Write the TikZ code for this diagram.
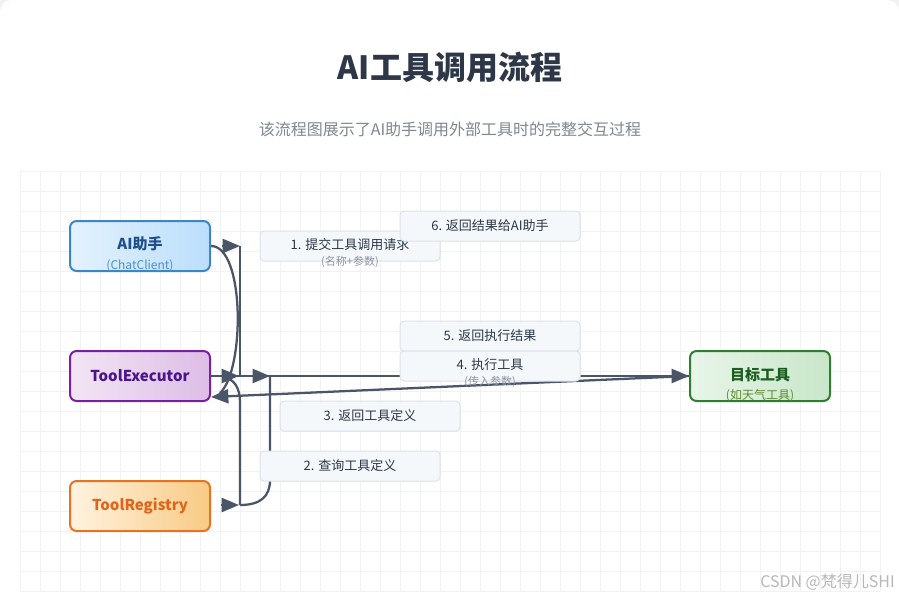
\documentclass[tikz,border=0pt]{standalone}
\usepackage{fontspec}
\setmainfont{Noto Sans CJK SC}
\usetikzlibrary{arrows.meta}
\definecolor{edgec}{HTML}{4A5568}
\definecolor{pagebg}{HTML}{F2F2F2}
\definecolor{gridc}{HTML}{F1F2F3}
\definecolor{titlec}{HTML}{2D3748}
\definecolor{subc}{HTML}{7F8790}
\definecolor{labfill}{HTML}{F5F8FB}
\definecolor{labdraw}{HTML}{DCE2E9}
\definecolor{labtext}{HTML}{2D3748}
\definecolor{labsub}{HTML}{8A94A3}
\definecolor{aiB}{HTML}{3D85C6}\definecolor{aiL}{HTML}{E3F2FD}\definecolor{aiR}{HTML}{BBDEFB}
\definecolor{aiT}{HTML}{1E4E8C}\definecolor{aiS}{HTML}{4A8FD0}
\definecolor{teB}{HTML}{7B1FA2}\definecolor{teL}{HTML}{F3E5F5}\definecolor{teR}{HTML}{DDBDE6}
\definecolor{teT}{HTML}{4A148C}
\definecolor{trB}{HTML}{E67322}\definecolor{trL}{HTML}{FFF3E0}\definecolor{trR}{HTML}{F8CA84}
\definecolor{trT}{HTML}{E0651C}
\definecolor{ttB}{HTML}{2E7D32}\definecolor{ttL}{HTML}{E8F5E9}\definecolor{ttR}{HTML}{C8E6C9}
\definecolor{ttT}{HTML}{1B5E20}\definecolor{ttS}{HTML}{5E8A2E}
\definecolor{wmc}{HTML}{B8B8B8}
\tikzset{
  comp/.style={rounded corners=5pt, minimum width=105pt, minimum height=37.5pt, line width=1.5pt, inner sep=0pt},
  lab/.style={rounded corners=3pt, minimum width=135pt, minimum height=22.5pt, fill=labfill, draw=labdraw, line width=0.75pt, inner sep=0pt},
  labtxt/.style={font=\fontsize{9.75}{11}\selectfont, text=labtext, inner sep=0pt},
  labsubtxt/.style={font=\fontsize{8.25}{9}\selectfont, text=labsub, inner sep=0pt},
  maintxt/.style={font=\fontsize{11.25}{13}\selectfont\bfseries, inner sep=0pt},
  subtxt/.style={font=\fontsize{9}{10}\selectfont, inner sep=0pt},
  edge/.style={draw=edgec, line width=1.7pt},
  tip/.style={-{Triangle[length=13pt,width=10.5pt]}},
  gridline/.style={draw=gridc, line width=0.75pt}
}
\begin{document}
\begin{tikzpicture}[x=0.75pt,y=-0.75pt]
\useasboundingbox (0,0) rectangle (899,597);
\fill[pagebg] (0,0) rectangle (899,597);
\fill[white, rounded corners=9pt] (0,0) rectangle (899,620);
% grid
\foreach \gx in {20,40,...,880} \draw[gridline] (\gx,171) -- (\gx,591);
\foreach \gy in {171,191,...,591} \draw[gridline] (20,\gy) -- (880,\gy);
% title
\node[font=\fontsize{24}{28}\selectfont\bfseries, text=titlec, inner sep=0pt] (title) at (450,67) {AI工具调用流程};
\node[font=\fontsize{12}{14}\selectfont, text=subc, inner sep=0pt] (subtitle) at (450,129) {该流程图展示了AI助手调用外部工具时的完整交互过程};
% components
\node[comp, draw=aiB, left color=aiL, right color=aiR] (ai) at (140,246) {};
\node[comp, draw=teB, left color=teL, right color=teR] (te) at (140,376) {};
\node[comp, draw=trB, left color=trL, right color=trR] (tr) at (140,506) {};
\node[comp, draw=ttB, left color=ttL, right color=ttR] (tt) at (760,376) {};
% joints
\coordinate (jtop) at (240,246);
\coordinate (j1) at (239,376);
\coordinate (j2) at (270,376);
\coordinate (jb) at (239,505);
\coordinate (cstart) at (225,378);
\coordinate (cend) at (220,393);
\coordinate (tein) at (211,397);
% edges
\draw[edge] (ai.east) .. controls (245,246) and (245,370) .. (cend);
\draw[edge] (240,376) -- (jtop);
\draw[edge, tip] (jtop) ++(-18,0) -- (jtop);
\draw[edge, tip] (te.east) -- (tt.west);
\draw[edge, tip] (j1) ++(-18,0) -- (j1);
\draw[edge, tip] (j2) ++(-18,0) -- (j2);
\draw[edge, tip] (tt.west) -- (tein);
\draw[edge] (cstart) .. controls (234,379) and (240,388) .. (240,402) -- (240,505);
\draw[edge, tip] (jb) ++(-18,0) -- (jb);
\draw[edge] (j2) -- (270,480) .. controls (270,497) and (260,505) .. (240,505);
% labels
\node[lab] (l1) at (350,246) {};
\node[labtxt] (l1t) at (350,245) {1. 提交工具调用请求};
\node[labsubtxt] (l1s) at (350,262) {(名称+参数)};
\node[lab] (l2) at (350,466) {};
\node[labtxt] (l2t) at (350,466) {2. 查询工具定义};
\node[lab] (l3) at (370,416) {};
\node[labtxt] (l3t) at (370,416) {3. 返回工具定义};
\node[lab] (l5) at (490,336) {};
\node[labtxt] (l5t) at (490,336) {5. 返回执行结果};
\node[lab] (l4) at (490,366) {};
\node[labtxt] (l4t) at (490,365) {4. 执行工具};
\node[labsubtxt] (l4s) at (490,382) {(传入参数)};
\node[lab] (l6) at (490,226) {};
\node[labtxt] (l6t) at (490,226) {6. 返回结果给AI助手};
% component texts
\node[maintxt, text=aiT] (ait) at (140,244) {AI助手};
\node[subtxt, text=aiS] (ais) at (140,266) {(ChatClient)};
\node[maintxt, text=teT] (tet) at (140,376) {ToolExecutor};
\node[maintxt, text=trT] (trt) at (140,506) {ToolRegistry};
\node[maintxt, text=ttT] (ttt) at (760,375) {目标工具};
\node[subtxt, text=ttS] (tts) at (760,396) {(如天气工具)};
% watermark
\node[font=\fontsize{12}{13}\selectfont, text=wmc, anchor=east, inner sep=0pt] (wm) at (895,582) {CSDN @梵得儿SHI};
\end{tikzpicture}
\end{document}
